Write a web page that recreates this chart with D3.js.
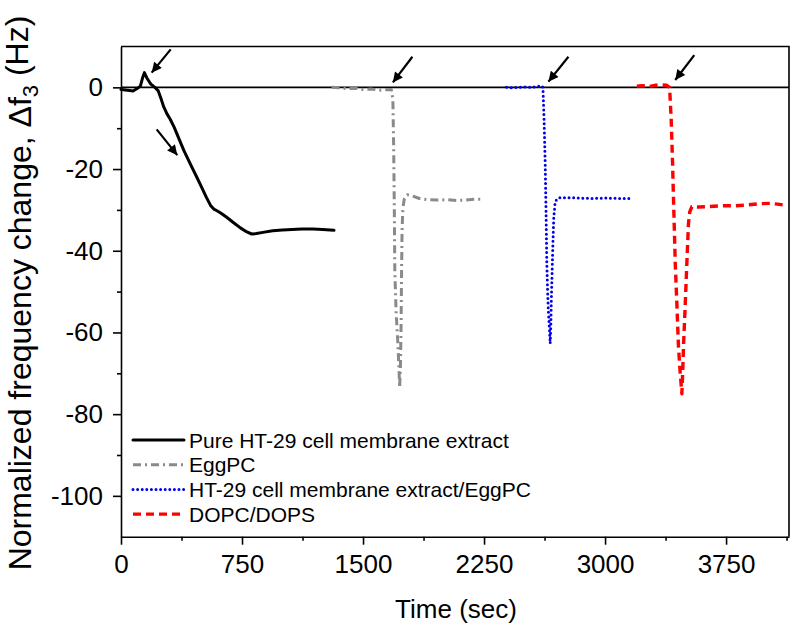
<!DOCTYPE html>
<html>
<head>
<meta charset="utf-8">
<script src="https://cdn.jsdelivr.net/npm/d3@7"></script>
<style>
body{margin:0;background:#fff;}
text{font-family:Arial,"Liberation Sans",sans-serif;fill:#000;}
</style>
</head>
<body>
<div id="chart"></div>
<script>
// ---- data ----
const pureTime  = [0,40,75,100,120,135,145,160,185,210,230,250,265,285,305,330,355,390,430,470,500,530,555,575,595,620,655,700,740,780,810,840,880,940,1000,1060,1120,1190,1250,1320];
const pureShift = [-0.5,-0.7,-0.9,-0.3,0.3,2.5,3.6,2.3,0.8,0,-0.8,-3,-4.8,-6.5,-7.8,-9.8,-12.2,-15.5,-18.8,-22,-24.5,-27,-28.9,-29.8,-30.2,-30.8,-31.8,-33.2,-34.4,-35.4,-35.9,-35.8,-35.5,-35.1,-34.9,-34.8,-34.7,-34.7,-34.8,-35];

const eggTime  = [1305,1350,1400,1450,1500,1550,1600,1640,1675,1685,1690,1694,1697,1705,1715,1722,1727,1732,1736,1739,1742,1747,1756,1775,1800,1850,1900,1960,2020,2080,2140,2190,2235];
const eggShift = [0,-0.1,-0.3,-0.2,-0.5,-0.4,-0.7,-0.6,-0.5,-3,-15,-30,-45,-55,-62,-68,-73.5,-68,-58,-45,-35,-29.5,-27.3,-26.3,-26.5,-27.2,-27.5,-27.6,-27.5,-27.7,-27.6,-27.4,-27.4];

const mixTime  = [2390,2420,2460,2500,2540,2580,2605,2615,2622,2629,2634,2639,2644,2649,2655,2660,2664,2667,2672,2677,2682,2690,2700,2722,2780,2850,2920,3000,3080,3156];
const mixShift = [0,-0.1,0,0.1,0,0.2,0.4,0,-8,-18.6,-30,-43,-50,-55,-59,-62.7,-58,-52,-45,-38,-32,-28.4,-27.4,-27,-27,-27.1,-27.2,-27.1,-27.2,-27.2];

const dopcTime  = [3197,3230,3270,3310,3350,3380,3400,3410,3418,3424,3435,3445,3455,3466,3476,3481,3486,3495,3503,3510,3517,3525,3538,3580,3640,3714,3800,3879,3950,4024,4070,4106];
const dopcShift = [0.3,0.4,0.2,0.5,0.6,0.5,0,-8,-18,-27,-43,-53,-63.5,-70,-75,-70,-63.5,-55,-47,-40,-33.3,-30.5,-29.2,-29.3,-29.2,-29,-29,-28.8,-28.5,-28.4,-28.6,-28.8];

const seriesNames = ['Pure HT-29 cell membrane extract','EggPC','HT-29 cell membrane extract/EggPC','DOPC/DOPS'];

// arrows (time, shift): tail -> tip
const arrowTails = [[308,9.3],[221,-10.3],[1806,7.5],[2773,7.5],[3553,7.9]];
const arrowTips  = [[190,3.6],[349,-16.6],[1685,1.2],[2649,1.4],[3435,1.8]];

const xTicks = [0,750,1500,2250,3000,3750];
const xMinorTicks = [375,1125,1875,2625,3375,4125];
const yTicks = [0,-20,-40,-60,-80,-100];
const yMinorTicks = [-10,-30,-50,-70,-90];

// ---- drawing ----
const width = 792, height = 626;
const margin = {top:46.5, right:3, bottom:89.3, left:121};

const svg = d3.select('#chart').append('svg')
  .attr('width', width)
  .attr('height', height);

const x = d3.scaleLinear().domain([0,4140]).range([margin.left, width-margin.right]);
const y = d3.scaleLinear().domain([-110,10]).range([height-margin.bottom, margin.top]);

const styles = [
  {color:'#000000', width:3,   dash:null,      cap:'round'},
  {color:'#8a8a8a', width:3,   dash:'8,4,2,4', cap:'butt'},
  {color:'#0000ee', width:3,   dash:'0,4.6',   cap:'round'},
  {color:'#ff0000', width:3.4, dash:'8,5',     cap:'butt'}
];

const series = [
  d3.zip(pureTime, pureShift),
  d3.zip(eggTime, eggShift),
  d3.zip(mixTime, mixShift),
  d3.zip(dopcTime, dopcShift)
];

// zero line
svg.append('line')
  .attr('x1', x.range()[0]).attr('x2', x.range()[1])
  .attr('y1', y(0)).attr('y2', y(0))
  .attr('stroke','#000').attr('stroke-width',1.6);

const line = d3.line().x(d=>x(d[0])).y(d=>y(d[1]));

svg.selectAll('.trace')
  .data(series)
  .enter()
  .append('path')
  .attr('class','trace')
  .attr('d', line)
  .attr('fill','none')
  .attr('stroke', (d,i)=>styles[i].color)
  .attr('stroke-width', (d,i)=>styles[i].width)
  .attr('stroke-dasharray', (d,i)=>styles[i].dash)
  .attr('stroke-linecap', (d,i)=>styles[i].cap)
  .attr('stroke-linejoin','round');

// arrows
svg.append('defs').append('marker')
  .attr('id','head')
  .attr('viewBox','0 0 10 10')
  .attr('refX',10).attr('refY',5)
  .attr('markerWidth',12).attr('markerHeight',10)
  .attr('markerUnits','userSpaceOnUse')
  .attr('orient','auto')
  .append('path').attr('d','M0,0 L10,5 L0,10 z').attr('fill','#000');

svg.selectAll('.arrow')
  .data(d3.zip(arrowTails, arrowTips))
  .enter()
  .append('line')
  .attr('class','arrow')
  .attr('x1', d=>x(d[0][0])).attr('y1', d=>y(d[0][1]))
  .attr('x2', d=>x(d[1][0])).attr('y2', d=>y(d[1][1]))
  .attr('stroke','#000').attr('stroke-width',2.2)
  .attr('marker-end','url(#head)');

// frame: top and right
svg.append('path')
  .attr('d', `M${x.range()[0]},${y.range()[1]} H${x.range()[1]} V${y.range()[0]}`)
  .attr('fill','none').attr('stroke','#000').attr('stroke-width',1.6);

// axes
const xAxis = d3.axisBottom(x).tickValues(xTicks).tickSize(8).tickSizeOuter(0).tickPadding(10).tickFormat(d=>d);
const xAxisG = svg.append('g').attr('transform',`translate(0,${y.range()[0]})`).call(xAxis);
svg.append('g').attr('transform',`translate(0,${y.range()[0]})`)
  .call(d3.axisBottom(x).tickValues(xMinorTicks).tickSize(4).tickFormat(''))
  .select('.domain').remove();

const yAxis = d3.axisLeft(y).tickValues(yTicks).tickSize(8).tickSizeOuter(0).tickPadding(10).tickFormat(d=>String(d));
const yAxisG = svg.append('g').attr('transform',`translate(${x.range()[0]},0)`).call(yAxis);
svg.append('g').attr('transform',`translate(${x.range()[0]},0)`)
  .call(d3.axisLeft(y).tickValues(yMinorTicks).tickSize(4).tickFormat(''))
  .select('.domain').remove();

svg.selectAll('.domain').attr('stroke-width',1.6);
svg.selectAll('.tick line').attr('stroke-width',1.6);
[xAxisG, yAxisG].forEach(g => g.selectAll('text').style('font-size','26px').attr('fill','#000'));

// axis titles
svg.append('text')
  .attr('x', 456).attr('y', 618)
  .attr('text-anchor','middle')
  .style('font-size','26px')
  .text('Time (sec)');

const yTitle = svg.append('text')
  .attr('transform','translate(31,293) rotate(-90)')
  .attr('text-anchor','middle')
  .style('font-size','32px');
yTitle.append('tspan').text('Normalized frequency change, \u0394f');
yTitle.append('tspan').attr('dy','0.3em').style('font-size','22px').text('3');
yTitle.append('tspan').attr('dy','-0.3em').text(' (Hz)');

// legend
const legend = svg.append('g').attr('class','legend');
const legendRow = legend.selectAll('g')
  .data(seriesNames)
  .enter()
  .append('g')
  .attr('transform',(d,i)=>`translate(0,${440 + i*24.7})`);

legendRow.append('line')
  .attr('x1',133).attr('x2',184).attr('y1',0).attr('y2',0)
  .attr('stroke',(d,i)=>styles[i].color)
  .attr('stroke-width',(d,i)=>styles[i].width)
  .attr('stroke-dasharray',(d,i)=>styles[i].dash)
  .attr('stroke-linecap',(d,i)=>styles[i].cap);

legendRow.append('text')
  .attr('x',189).attr('y',0).attr('dy','0.36em')
  .style('font-size','21px')
  .text(d=>d);
</script>
</body>
</html>
